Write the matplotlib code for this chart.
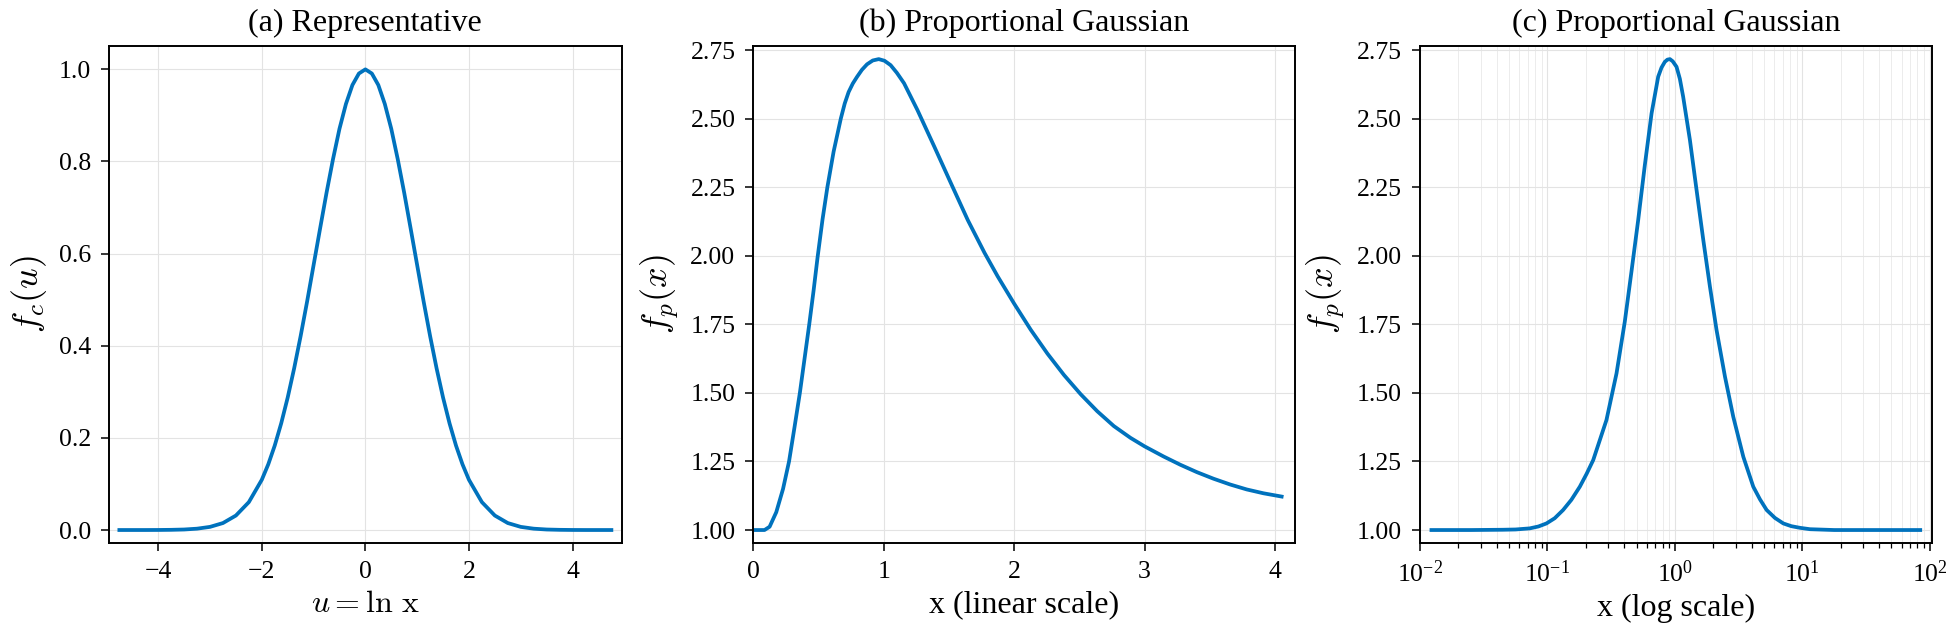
import matplotlib
matplotlib.use("Agg")
import matplotlib.pyplot as plt
from matplotlib.ticker import LogLocator, NullFormatter, FormatStrFormatter

plt.rcParams['font.family'] = ['Liberation Serif', 'DejaVu Serif']
plt.rcParams['mathtext.fontset'] = 'cm'

LINE_COLOR = '#0072bd'

# (a) representative curve
u_vals = [-4.75, -4.5, -4.25, -4.0, -3.75, -3.5, -3.25, -3.0, -2.75, -2.5,
          -2.25, -2.0, -1.875, -1.75, -1.625, -1.5, -1.375, -1.25, -1.125,
          -1.0, -0.875, -0.75, -0.625, -0.5, -0.375, -0.25, -0.125, 0.0,
          0.125, 0.25, 0.375, 0.5, 0.625, 0.75, 0.875, 1.0, 1.125, 1.25,
          1.375, 1.5, 1.625, 1.75, 1.875, 2.0, 2.25, 2.5, 2.75, 3.0, 3.25,
          3.5, 3.75, 4.0, 4.25, 4.5, 4.75]
fc_vals = [0.0, 0.0, 0.0, 0.0001, 0.0004, 0.0011, 0.0029, 0.0068, 0.0151,
           0.0314, 0.0605, 0.109, 0.1426, 0.1833, 0.2316, 0.2875, 0.351,
           0.421, 0.496, 0.575, 0.654, 0.732, 0.805, 0.871, 0.925, 0.966,
           0.991, 1.0, 0.991, 0.966, 0.925, 0.871, 0.805, 0.732, 0.654,
           0.575, 0.496, 0.421, 0.351, 0.2875, 0.2316, 0.1833, 0.1426, 0.109,
           0.0605, 0.0314, 0.0151, 0.0068, 0.0029, 0.0011, 0.0004, 0.0001,
           0.0, 0.0, 0.0]

# (b) proportional gaussian, linear x
xb_vals = [0.01, 0.05, 0.085, 0.124, 0.175, 0.227, 0.273, 0.315, 0.356,
           0.392, 0.428, 0.461, 0.492, 0.530, 0.567, 0.615, 0.670, 0.70,
           0.73, 0.762, 0.794, 0.832, 0.871, 0.915, 0.961, 1.005, 1.052,
           1.10, 1.155, 1.258, 1.387, 1.515, 1.644, 1.773, 1.873, 2.0, 2.127,
           2.255, 2.382, 2.510, 2.637, 2.764, 2.892, 3.0, 3.146, 3.274,
           3.401, 3.529, 3.656, 3.783, 3.911, 4.051]
fb_vals = [1.0, 1.0, 1.0, 1.012, 1.065, 1.15, 1.25, 1.375, 1.50, 1.625,
           1.75, 1.872, 1.995, 2.133, 2.25, 2.38, 2.50, 2.555, 2.597, 2.628,
           2.652, 2.678, 2.698, 2.712, 2.717, 2.711, 2.695, 2.667, 2.629,
           2.531, 2.398, 2.264, 2.130, 2.010, 1.925, 1.825, 1.730, 1.643,
           1.565, 1.495, 1.433, 1.379, 1.336, 1.305, 1.268, 1.238, 1.211,
           1.187, 1.166, 1.148, 1.134, 1.122]

# (c) proportional gaussian, log x
xc_vals = [0.0123, 0.0251, 0.0447, 0.0562, 0.0726, 0.0850, 0.0982, 0.114,
           0.1327, 0.154, 0.1795, 0.203, 0.2286, 0.2904, 0.3483, 0.4046,
           0.4571, 0.5152, 0.5808, 0.6561, 0.7396, 0.7852, 0.8337, 0.8730,
           0.9142, 0.9616, 1.030, 1.094, 1.161, 1.312, 1.479, 1.671, 1.884,
           2.123, 2.472, 2.871, 3.443, 4.121, 4.65, 5.248, 6.10, 7.096, 8.2,
           9.594, 11.48, 17.78, 31.62, 84.14]
fcx_vals = [1.0, 1.0, 1.001, 1.002, 1.006, 1.013, 1.024, 1.043, 1.073, 1.110,
            1.158, 1.205, 1.255, 1.401, 1.571, 1.760, 1.945, 2.130, 2.330,
            2.519, 2.653, 2.686, 2.707, 2.715, 2.717, 2.709, 2.689, 2.645,
            2.580, 2.422, 2.240, 2.057, 1.887, 1.729, 1.559, 1.413, 1.267,
            1.158, 1.112, 1.073, 1.044, 1.024, 1.014, 1.008, 1.003, 1.0, 1.0,
            1.0]

titles = ['(a) Representative', '(b) Proportional Gaussian',
          '(c) Proportional Gaussian']
xlabels = [r'$u = \ln\,\mathrm{x}$', 'x (linear scale)', 'x (log scale)']
ylabels = [r'$f_c(u)$', r'$f_p(x)$', r'$f_p(x)$']

fig = plt.figure(figsize=(19.57, 6.37), dpi=100)
ax_a = fig.add_axes([0.0557, 0.148, 0.2620, 0.7797])
ax_b = fig.add_axes([0.3850, 0.148, 0.2767, 0.7797])
ax_c = fig.add_axes([0.7256, 0.148, 0.2616, 0.7797])
axes = [ax_a, ax_b, ax_c]

ax_a.plot(u_vals, fc_vals, color=LINE_COLOR, lw=2.7)
ax_b.plot(xb_vals, fb_vals, color=LINE_COLOR, lw=2.7)
ax_c.plot(xc_vals, fcx_vals, color=LINE_COLOR, lw=2.7)

ax_a.set_xlim(-4.95, 4.95)
ax_a.set_ylim(-0.0276, 1.0506)
ax_a.set_xticks([-4, -2, 0, 2, 4])
ax_a.set_yticks([0.0, 0.2, 0.4, 0.6, 0.8, 1.0])

ax_b.set_xlim(0, 4.153)
ax_b.set_ylim(0.9537, 2.7646)
ax_b.set_xticks([0, 1, 2, 3, 4])
ax_b.set_yticks([1.0, 1.25, 1.5, 1.75, 2.0, 2.25, 2.5, 2.75])

ax_c.set_xscale('log')
ax_c.set_xlim(1e-2, 104)
ax_c.set_ylim(0.9537, 2.7646)
ax_c.set_yticks([1.0, 1.25, 1.5, 1.75, 2.0, 2.25, 2.5, 2.75])
ax_c.xaxis.set_major_locator(LogLocator(base=10, numticks=10))
ax_c.xaxis.set_minor_locator(LogLocator(base=10, subs=range(2, 10), numticks=100))
ax_c.xaxis.set_minor_formatter(NullFormatter())

for ax, t, xl, yl in zip(axes, titles, xlabels, ylabels):
    ax.set_title(t, fontsize=23, pad=11)
    ax.set_xlabel(xl, fontsize=23, labelpad=5)
    ax.set_ylabel(yl, fontsize=26, labelpad=7)
    ax.tick_params(axis='both', which='major', labelsize=18.5, direction='out',
                   length=6, width=1.1, pad=7)
    ax.tick_params(axis='x', which='minor', direction='out', length=3.5,
                   width=0.9)
    ax.grid(True, which='major', color='#e3e3e3', lw=0.8)
    ax.set_axisbelow(True)
    for s in ax.spines.values():
        s.set_linewidth(1.4)

ax_b.yaxis.set_major_formatter(FormatStrFormatter('%.2f'))
ax_c.yaxis.set_major_formatter(FormatStrFormatter('%.2f'))
ax_c.grid(True, which='minor', axis='x', color='#ececec', lw=0.7)

fig.savefig('out.png', dpi=100)
